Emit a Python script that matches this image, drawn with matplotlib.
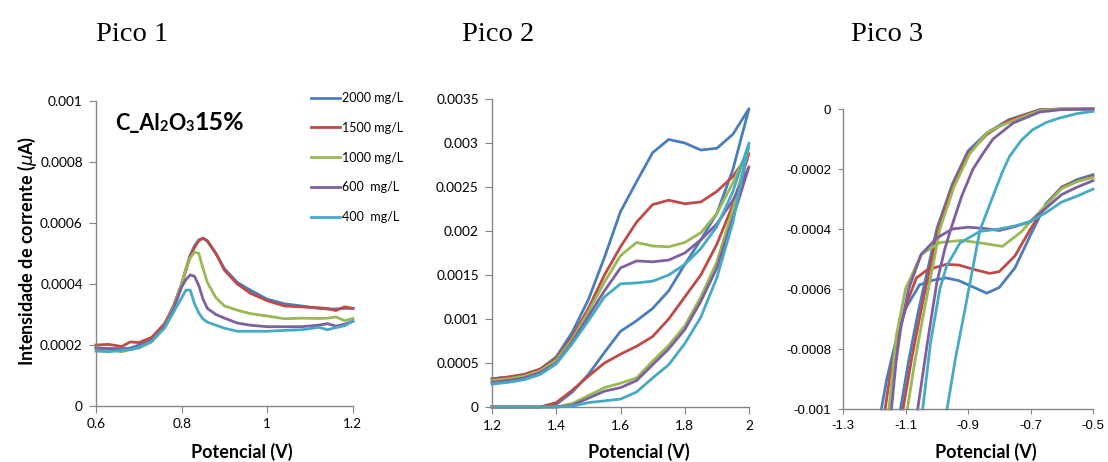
import matplotlib
matplotlib.use("Agg")
import matplotlib.pyplot as plt
from matplotlib.ticker import FuncFormatter
import numpy as np

plt.rcParams.update({
    "font.family": ["Lato", "DejaVu Sans"],
    "font.size": 9.8,
    "axes.unicode_minus": False,
    "axes.linewidth": 1.0,
    "axes.edgecolor": "#868686",
    "xtick.color": "#868686",
    "ytick.color": "#868686",
    "xtick.labelcolor": "black",
    "ytick.labelcolor": "black",
    "xtick.direction": "out",
    "ytick.direction": "out",
    "xtick.major.size": 5,
    "ytick.major.size": 5,
})

labels = ["2000 mg/L", "1500 mg/L", "1000 mg/L", "600  mg/L", "400  mg/L"]
colors = ["#4A7EBB", "#BE4B48", "#98B954", "#7D60A0", "#46AAC5"]

# ---- Pico 1 (values in 1e-4 uA)
p1_x = [0.60, 0.63, 0.66, 0.68, 0.70, 0.73, 0.76, 0.78, 0.80, 0.81, 0.82, 0.83, 0.84,
        0.85, 0.86, 0.88, 0.90, 0.93, 0.96, 1.00, 1.04, 1.08, 1.12, 1.14, 1.16, 1.18, 1.20]
p1_2000 = [1.90, 1.88, 1.88, 1.90, 2.00, 2.20, 2.65, 3.20, 4.00, 4.50, 4.95, 5.25, 5.45,
           5.50, 5.40, 5.00, 4.50, 4.05, 3.80, 3.50, 3.35, 3.28, 3.20, 3.18, 3.18, 3.20, 3.20]
p1_1500 = [2.00, 2.02, 1.95, 2.10, 2.08, 2.25, 2.70, 3.25, 4.00, 4.45, 4.90, 5.20, 5.42,
           5.50, 5.42, 5.00, 4.45, 4.00, 3.70, 3.45, 3.28, 3.25, 3.22, 3.20, 3.13, 3.25, 3.20]
p1_1000 = [1.90, 1.85, 1.78, 1.85, 1.90, 2.10, 2.60, 3.20, 4.00, 4.50, 4.85, 5.05, 5.00,
           4.50, 4.05, 3.55, 3.28, 3.14, 3.03, 2.95, 2.86, 2.88, 2.87, 2.88, 2.92, 2.80, 2.87]
p1_600 = [1.90, 1.88, 1.85, 1.85, 1.95, 2.15, 2.60, 3.15, 3.90, 4.15, 4.30, 4.25, 3.95,
          3.50, 3.20, 3.00, 2.88, 2.72, 2.65, 2.60, 2.60, 2.60, 2.65, 2.70, 2.62, 2.68, 2.78]
p1_400 = [1.80, 1.78, 1.82, 1.85, 1.92, 2.12, 2.55, 3.05, 3.55, 3.80, 3.80, 3.35, 3.05,
          2.85, 2.75, 2.65, 2.55, 2.45, 2.45, 2.45, 2.48, 2.50, 2.58, 2.50, 2.57, 2.63, 2.78]

# ---- Pico 2 (values in 1e-3 uA), forward scan then reverse scan
p2_x_fwd = [1.2, 1.25, 1.3, 1.35, 1.4, 1.45, 1.5, 1.55, 1.6, 1.65, 1.7, 1.75, 1.8, 1.85, 1.9, 1.95, 2.0]
p2_x_rev = [2.0, 1.95, 1.9, 1.85, 1.8, 1.75, 1.7, 1.65, 1.6, 1.55, 1.5, 1.45, 1.4, 1.35, 1.3, 1.2]
p2_2000_fwd = [0.32, 0.34, 0.37, 0.43, 0.57, 0.85, 1.22, 1.70, 2.22, 2.56, 2.89, 3.04, 3.00, 2.92, 2.94, 3.10, 3.39]
p2_2000_rev = [3.39, 2.70, 2.20, 1.90, 1.62, 1.32, 1.12, 0.98, 0.86, 0.62, 0.37, 0.17, 0.03, 0.0, 0.0, 0.0]
p2_1500_fwd = [0.32, 0.34, 0.37, 0.43, 0.55, 0.80, 1.12, 1.50, 1.82, 2.10, 2.30, 2.35, 2.31, 2.33, 2.45, 2.62, 2.88]
p2_1500_rev = [2.88, 2.30, 1.85, 1.50, 1.25, 1.00, 0.80, 0.69, 0.60, 0.50, 0.35, 0.19, 0.05, 0.0, 0.0, 0.0]
p2_1000_fwd = [0.30, 0.32, 0.35, 0.41, 0.53, 0.77, 1.08, 1.42, 1.72, 1.87, 1.83, 1.82, 1.87, 1.98, 2.20, 2.55, 2.95]
p2_1000_rev = [2.95, 2.25, 1.65, 1.25, 0.92, 0.70, 0.52, 0.33, 0.27, 0.22, 0.13, 0.04, 0.0, 0.0, 0.0, 0.0]
p2_600_fwd = [0.28, 0.30, 0.33, 0.39, 0.50, 0.74, 1.03, 1.32, 1.58, 1.66, 1.65, 1.67, 1.75, 1.90, 2.08, 2.35, 2.73]
p2_600_rev = [2.73, 2.15, 1.58, 1.20, 0.88, 0.66, 0.48, 0.30, 0.22, 0.18, 0.10, 0.02, 0.0, 0.0, 0.0, 0.0]
p2_400_fwd = [0.26, 0.28, 0.31, 0.37, 0.49, 0.72, 0.98, 1.25, 1.40, 1.41, 1.43, 1.50, 1.62, 1.80, 2.05, 2.45, 3.00]
p2_400_rev = [3.00, 2.10, 1.47, 1.02, 0.72, 0.48, 0.33, 0.17, 0.09, 0.07, 0.05, 0.01, 0.0, 0.0, 0.0, 0.0]

# ---- Pico 3 (values in 1e-4 uA): cathodic branch (_c) and return branch (_r)
p3_2000_xc = [-0.5, -0.55, -0.6, -0.65, -0.7, -0.75, -0.8, -0.84, -0.88, -0.93, -0.97, -1.01, -1.055,
              -1.1, -1.13, -1.16, -1.177]
p3_2000_yc = [-2.19, -2.35, -2.6, -3.15, -4.2, -5.3, -5.95, -6.14, -5.95, -5.72, -5.63, -5.7, -5.86,
              -6.65, -7.7, -9.0, -10.0]
p3_2000_xr = [-1.116, -1.09, -1.06, -1.03, -1.0, -0.95, -0.9, -0.84, -0.77, -0.67, -0.6, -0.5]
p3_2000_yr = [-10.0, -8.4, -6.8, -5.4, -4.0, -2.5, -1.4, -0.8, -0.36, -0.02, 0.0, 0.0]

p3_1500_xc = [-0.5, -0.55, -0.6, -0.65, -0.7, -0.75, -0.8, -0.83, -0.88, -0.93, -0.97, -1.03, -1.065,
              -1.09, -1.12, -1.15, -1.165]
p3_1500_yc = [-2.25, -2.4, -2.62, -3.2, -4.0, -4.9, -5.42, -5.48, -5.35, -5.2, -5.18, -5.36, -5.63,
              -6.3, -7.4, -8.9, -10.0]
p3_1500_xr = [-1.108, -1.08, -1.05, -1.02, -0.995, -0.95, -0.9, -0.84, -0.77, -0.67, -0.6, -0.5]
p3_1500_yr = [-10.0, -8.3, -6.7, -5.2, -4.0, -2.6, -1.5, -0.85, -0.38, -0.03, 0.0, 0.0]

p3_1000_xc = [-0.5, -0.55, -0.6, -0.65, -0.7, -0.73, -0.79, -0.85, -0.92, -0.99, -1.05, -1.1, -1.13, -1.153]
p3_1000_yc = [-2.28, -2.42, -2.65, -3.2, -3.75, -4.1, -4.58, -4.48, -4.38, -4.45, -4.85, -6.0, -7.6, -10.0]
p3_1000_xr = [-1.094, -1.07, -1.04, -1.01, -0.99, -0.945, -0.895, -0.84, -0.8, -0.77, -0.67, -0.6, -0.5]
p3_1000_yr = [-10.0, -8.4, -6.7, -5.1, -4.0, -2.6, -1.5, -0.8, -0.58, -0.45, -0.05, 0.0, 0.0]

p3_600_xc = [-0.5, -0.55, -0.6, -0.65, -0.7, -0.75, -0.8, -0.85, -0.9, -0.95, -1.0, -1.05, -1.09,
             -1.115, -1.13, -1.145]
p3_600_yc = [-2.39, -2.6, -2.85, -3.3, -3.75, -3.92, -4.05, -3.98, -3.94, -4.0, -4.3, -4.85, -6.0,
             -7.3, -8.4, -10.0]
p3_600_xr = [-1.061, -1.03, -1.0, -0.975, -0.955, -0.92, -0.884, -0.85, -0.82, -0.756, -0.67, -0.6, -0.5]
p3_600_yr = [-10.0, -7.8, -5.8, -4.7, -4.0, -2.9, -2.0, -1.45, -1.0, -0.47, -0.1, -0.02, 0.0]

p3_400_xc = [-0.5, -0.55, -0.6, -0.65, -0.7, -0.75, -0.8, -0.862, -0.926, -0.969, -0.99, -1.02, -1.045]
p3_400_yc = [-2.67, -2.9, -3.1, -3.45, -3.75, -3.9, -4.0, -4.08, -4.47, -5.25, -6.0, -7.8, -10.0]
p3_400_xr = [-0.967, -0.94, -0.91, -0.862, -0.82, -0.79, -0.767, -0.73, -0.693, -0.65, -0.607, -0.55, -0.5]
p3_400_yr = [-10.0, -8.3, -6.7, -4.05, -2.9, -2.1, -1.58, -1.05, -0.69, -0.45, -0.3, -0.15, -0.08]

W, H = 1108, 462
fig = plt.figure(figsize=(W / 100, H / 100), dpi=100)


def box(l, t, r, b):
    return [l / W, 1 - b / H, (r - l) / W, (b - t) / H]


ax1 = fig.add_axes(box(96, 101, 353, 406))
ax2 = fig.add_axes(box(492, 99, 749, 407))
ax3 = fig.add_axes(box(843, 109, 1093, 409))

fmt = FuncFormatter(lambda v, p: "{:g}".format(round(v, 6)))
lw = 2.0

p1_series = [p1_2000, p1_1500, p1_1000, p1_600, p1_400]
for ys, c, lab in zip(p1_series, colors, labels):
    ax1.plot(p1_x, np.array(ys) * 1e-4, color=c, lw=lw, label=lab, clip_on=False)
ax1.set_xlim(0.6, 1.2)
ax1.set_ylim(0, 0.001)
ax1.set_xticks([0.6, 0.8, 1.0, 1.2])
ax1.set_yticks([0, 0.0002, 0.0004, 0.0006, 0.0008, 0.001])

p2_series = [(p2_2000_fwd, p2_2000_rev), (p2_1500_fwd, p2_1500_rev), (p2_1000_fwd, p2_1000_rev),
             (p2_600_fwd, p2_600_rev), (p2_400_fwd, p2_400_rev)]
for (yf, yr), c in zip(p2_series, colors):
    ax2.plot(p2_x_fwd + p2_x_rev, np.array(yf + yr) * 1e-3, color=c, lw=lw, clip_on=False)
ax2.set_xlim(1.2, 2.0)
ax2.set_ylim(0, 0.0035)
ax2.set_xticks([1.2, 1.4, 1.6, 1.8, 2.0])
ax2.set_yticks([0, 0.0005, 0.001, 0.0015, 0.002, 0.0025, 0.003, 0.0035])

p3_series = [(p3_2000_xc, p3_2000_yc, p3_2000_xr, p3_2000_yr),
             (p3_1500_xc, p3_1500_yc, p3_1500_xr, p3_1500_yr),
             (p3_1000_xc, p3_1000_yc, p3_1000_xr, p3_1000_yr),
             (p3_600_xc, p3_600_yc, p3_600_xr, p3_600_yr),
             (p3_400_xc, p3_400_yc, p3_400_xr, p3_400_yr)]
for (xc, yc, xr, yr), c in zip(p3_series, colors):
    ax3.plot(xc, np.array(yc) * 1e-4, color=c, lw=lw, clip_on=False)
    ax3.plot(xr, np.array(yr) * 1e-4, color=c, lw=lw, clip_on=False)
ax3.set_xlim(-1.3, -0.5)
ax3.set_ylim(-0.001, 0)
ax3.set_xticks([-1.3, -1.1, -0.9, -0.7, -0.5])
ax3.set_yticks([-0.001, -0.0008, -0.0006, -0.0004, -0.0002, 0])

for ax in (ax1, ax2, ax3):
    ax.spines["top"].set_visible(False)
    ax.spines["right"].set_visible(False)
    ax.xaxis.set_major_formatter(fmt)
    ax.yaxis.set_major_formatter(fmt)
    ax.tick_params(axis="x", pad=4)
    ax.tick_params(axis="y", pad=4.5)
ax3.tick_params(length=3.6)
ax3.tick_params(axis="y", pad=5)
for lab in ax3.get_xticklabels() + ax3.get_yticklabels():
    lab.set_family("Liberation Sans")
    lab.set_fontsize(9.5)

ax1.legend(loc="upper left", bbox_to_anchor=(311 / W, 1 - 92 / H), bbox_transform=fig.transFigure,
           frameon=False, handlelength=2.3, handletextpad=0.15, labelspacing=1.42,
           borderpad=0, borderaxespad=0, fontsize=9)

# compound label C_Al2O3 15%
t = ax1.text(0.074, 0.905, "C_Al", transform=ax1.transAxes, fontsize=15.5, fontweight="bold", va="baseline")
for s, size in [("2", 10.5), ("O", 15.5), ("3", 10.5), ("15%", 18)]:
    t = ax1.annotate(s, xy=(1, 0), xycoords=t, va="bottom", ha="left",
                     fontsize=size, fontweight="bold")

for x0, s in [(96, "Pico 1"), (462, "Pico 2"), (851, "Pico 3")]:
    fig.text(x0 / W, 1 - 41 / H, s, family="Liberation Serif", fontsize=20.5, va="baseline")

for xc in (242, 639, 986):
    fig.text(xc / W, 1 - 452 / H, "Potencial (V)", ha="center", va="center",
             fontsize=13, fontweight="bold")
fig.text(27 / W, 1 - 251 / H, "Intensidade de corrente ($\\mu$A)", rotation=90,
         ha="center", va="center", fontsize=13, fontweight="bold")

fig.savefig("out.png", dpi=100)
